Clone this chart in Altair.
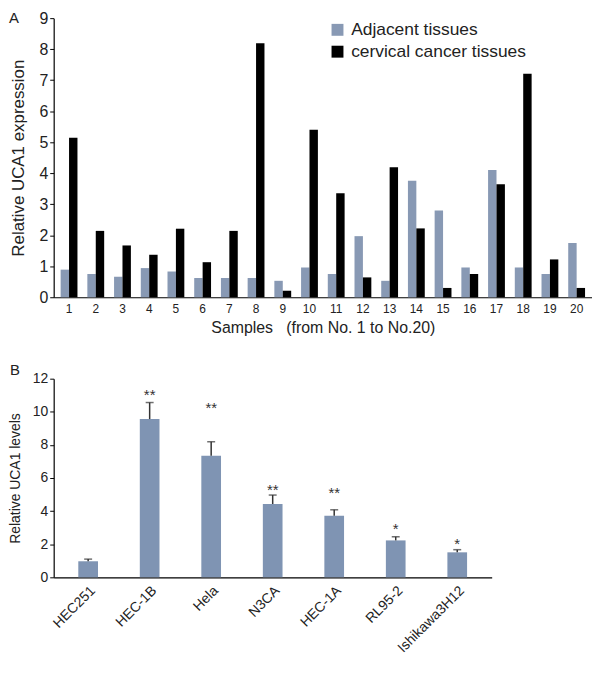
import altair as alt
import pandas as pd

samples = [str(i) for i in range(1, 21)]
adjacent = [0.89, 0.75, 0.66, 0.94, 0.83, 0.62, 0.62, 0.62, 0.53, 0.96,
            0.75, 1.97, 0.53, 3.76, 2.80, 0.96, 4.10, 0.96, 0.75, 1.75]
cancer = [5.14, 2.14, 1.67, 1.37, 2.21, 1.13, 2.14, 8.19, 0.21, 5.40,
          3.35, 0.64, 4.19, 2.22, 0.30, 0.75, 3.64, 7.21, 1.22, 0.30]
series = ["Adjacent tissues", "cervical cancer tissues"]

cells = ["HEC251", "HEC-1B", "Hela", "N3CA", "HEC-1A", "RL95-2", "Ishikawa3H12"]
levels = [0.97, 9.56, 7.34, 4.43, 3.72, 2.23, 1.51]
err_top = [1.10, 10.56, 8.19, 4.97, 4.08, 2.45, 1.67]
stars = ["", "**", "**", "**", "**", "*", "*"]
star_y = [0, 11.0, 10.2, 5.3, 5.1, 2.9, 2.0]

FONT = "Liberation Sans"
TXT = "#222222"

rows = []
for i, s in enumerate(samples):
    rows.append({"Sample": s, "Series": series[0], "Value": adjacent[i]})
    rows.append({"Sample": s, "Series": series[1], "Value": cancer[i]})
dfA = pd.DataFrame(rows)

barsA = alt.Chart(dfA).mark_bar().encode(
    x=alt.X("Sample:N", sort=samples,
            scale=alt.Scale(paddingInner=0.37, paddingOuter=0.26),
            axis=alt.Axis(labelAngle=0, labelFontSize=12, ticks=False, labelPadding=6,
                          title="Samples\u00a0\u00a0\u00a0(from No. 1 to No.20)", titleFontSize=16,
                          titleFontWeight="normal", titlePadding=6)),
    xOffset=alt.XOffset("Series:N", sort=series, scale=alt.Scale(paddingInner=0, paddingOuter=0)),
    y=alt.Y("Value:Q", scale=alt.Scale(domain=[0, 9], nice=False),
            axis=alt.Axis(values=list(range(10)), labelFontSize=16, tickSize=4,
                          labelOverlap=False, labelFlush=False,
                          title="Relative UCA1 expression", titleFontSize=17,
                          titleFontWeight="normal", titlePadding=11)),
    color=alt.Color("Series:N", sort=series,
                    scale=alt.Scale(domain=series, range=["#8899B4", "#000000"]),
                    legend=alt.Legend(title=None, orient="none", legendX=277, legendY=3,
                                      padding=0, symbolType="square", symbolSize=144,
                                      labelFontSize=17.5, labelLimit=0, symbolStrokeWidth=0,
                                      rowPadding=3, labelOffset=5)),
)
labelA = alt.Chart(pd.DataFrame({"t": ["A"]})).mark_text(
    fontSize=15, color=TXT, align="left", baseline="middle").encode(
    text="t:N", x=alt.value(-45), y=alt.value(0))
chartA = alt.layer(barsA, labelA).properties(width=542, height=281)

dfB = pd.DataFrame({"Cell": cells, "Level": levels, "Err": err_top,
                    "Star": stars, "StarY": star_y})
xB = alt.X("Cell:N", sort=cells, scale=alt.Scale(paddingInner=0.68, paddingOuter=0.4),
           axis=alt.Axis(labelAngle=-45, labelFontSize=14, ticks=False, title=None,
                         labelPadding=6))
yscaleB = alt.Scale(domain=[0, 12], nice=False)
yaxisB = alt.Axis(values=list(range(0, 13, 2)), labelFontSize=14, tickSize=4,
                  labelOverlap=False, labelFlush=False,
                  title="Relative UCA1 levels", titleFontSize=14,
                  titleFontWeight="normal", titlePadding=10)
barsB = alt.Chart(dfB).mark_bar(color="#7F94B3").encode(
    x=xB, y=alt.Y("Level:Q", scale=yscaleB, axis=yaxisB))
errB = alt.Chart(dfB).mark_rule(color="#333333", strokeWidth=1.5).encode(
    x=xB, y=alt.Y("Level:Q", scale=yscaleB, axis=yaxisB), y2="Err:Q")
capB = alt.Chart(dfB).mark_tick(color="#333333", thickness=1.5, size=8).encode(
    x=xB, y=alt.Y("Err:Q", scale=yscaleB, axis=yaxisB))
starB = alt.Chart(dfB).mark_text(fontSize=15, color="#333333", baseline="middle").encode(
    x=xB, y=alt.Y("StarY:Q", scale=yscaleB, axis=yaxisB), text="Star:N")
labelB = alt.Chart(pd.DataFrame({"t": ["B"]})).mark_text(
    fontSize=15, color=TXT, align="left", baseline="middle").encode(
    text="t:N", x=alt.value(-44), y=alt.value(-9))
chartB = alt.layer(barsB, errB, capB, starB, labelB).properties(width=441, height=200)

chart = alt.vconcat(chartA, chartB, spacing=27).properties(
    padding={"left": 0, "top": 0, "right": 0, "bottom": 0}
).configure(font=FONT).configure_view(stroke=None).configure_axis(
    grid=False, domainColor="#000000", tickColor="#000000", labelColor=TXT,
    titleColor=TXT, domainWidth=1.2
).configure_legend(labelColor=TXT)

chart.save("out.html", embed_options={"renderer": "svg", "actions": False})
